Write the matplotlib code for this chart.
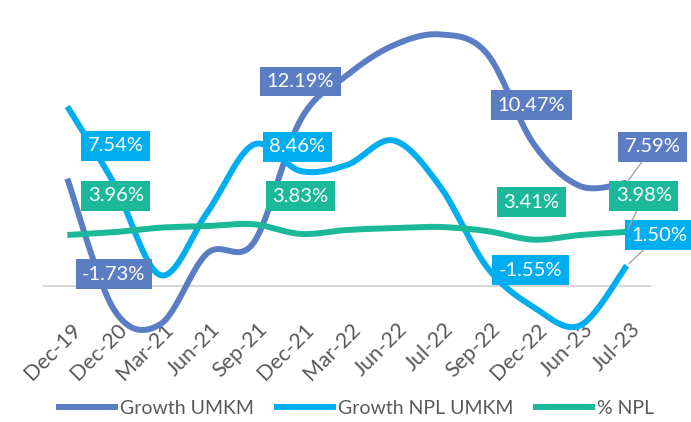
import numpy as np
import matplotlib.pyplot as plt
from matplotlib.transforms import ScaledTranslation

bulan = ['Dec-19', 'Dec-20', 'Mar-21', 'Jun-21', 'Sep-21', 'Dec-21', 'Mar-22',
         'Jun-22', 'Jul-22', 'Sep-22', 'Dec-22', 'Jun-23', 'Jul-23']
growth_umkm = [7.9, -1.73, -2.8, 2.4, 3.2, 12.19, 15.5, 17.7, 18.5, 17.1, 10.47, 7.35, 7.59]
growth_npl_umkm = [13.2, 7.54, 0.8, 5.4, 10.4, 8.46, 8.9, 10.7, 7.3, 1.4, -1.55, -2.9, 1.50]
npl = [3.75, 3.96, 4.29, 4.41, 4.54, 3.83, 4.12, 4.26, 4.34, 4.04, 3.41, 3.75, 3.98]
# titik yang diberi label
idx_label = [1, 5, 10, 12]

plt.rcParams['font.family'] = ['Lato', 'DejaVu Sans']


def smooth(y, n=30):
    # garis halus ala excel (bezier / catmull-rom)
    y = np.asarray(y, float)
    x = np.arange(len(y), dtype=float)
    t = np.linspace(0, 1, n)
    xs, ys = [], []
    for i in range(len(y) - 1):
        i0 = max(i - 1, 0)
        i3 = min(i + 2, len(y) - 1)
        for arr, out in ((x, xs), (y, ys)):
            p0, p1, p2, p3 = arr[i0], arr[i], arr[i + 1], arr[i3]
            c1 = p1 + (p2 - p0) / 6
            c2 = p2 - (p3 - p1) / 6
            out.append((1 - t) ** 3 * p1 + 3 * (1 - t) ** 2 * t * c1
                       + 3 * (1 - t) * t ** 2 * c2 + t ** 3 * p2)
    return np.concatenate(xs), np.concatenate(ys)


fig = plt.figure(figsize=(6.91, 4.22), dpi=100)
ax = fig.add_axes([44 / 691, 0.1611, 606 / 691, 0.7896])

series = [
    ('Growth UMKM', growth_umkm, '#5B7DC4', [(0, 35.5), (0, 38.7), (-2, 38.6), (26, 35.8)]),
    ('Growth NPL UMKM', growth_npl_umkm, '#00AEEF', [(2, 37.5), (-3, 24), (-3, 37), (33, 30.6)]),
    ('% NPL', npl, '#1BB99A', [(2, 36.6), (0, 37.9), (-2, 37.6), (17, 35.9)]),
]

for nama, data, warna, offs in series:
    xs, ys = smooth(data)
    ax.plot(xs, ys, color=warna, lw=4.3, solid_capstyle='butt', label=nama, zorder=2)

for nama, data, warna, offs in series:
    for i, (dx, dy) in zip(idx_label, offs):
        arrow = None
        if i == len(data) - 1:
            arrow = dict(arrowstyle='-', color='#A6A6A6', lw=1, shrinkA=0, shrinkB=2)
        ax.annotate(f'{data[i]:.2f}%', xy=(i, data[i]), xytext=(dx * 0.72, dy * 0.72),
                    textcoords='offset points', ha='center', va='center',
                    fontsize=14.5, color='white', zorder=5,
                    bbox=dict(boxstyle='square,pad=0.32', fc=warna, ec='none'),
                    arrowprops=arrow)

ax.set_xlim(-0.5, len(bulan) - 0.5)
ax.set_ylim(-5, 19.5)
for s in ['top', 'right', 'left']:
    ax.spines[s].set_visible(False)
ax.spines['bottom'].set_position(('data', 0))
ax.spines['bottom'].set_color('#D9D9D9')
ax.spines['bottom'].set_linewidth(1.5)
ax.spines['bottom'].set_zorder(1)
ax.set_yticks([])
ax.set_xticks(range(len(bulan)))
ax.set_xticklabels(bulan, rotation=45, ha='right', rotation_mode='anchor',
                   fontsize=15.5, color='#595959')
ax.tick_params(axis='x', length=0, pad=24)
geser = ScaledTranslation(3 / 100, 0, fig.dpi_scale_trans)
for lbl in ax.get_xticklabels():
    lbl.set_transform(lbl.get_transform() + geser)

fig.legend(loc='center', bbox_to_anchor=(355 / 691, 1 - 408 / 422), ncol=3,
           frameon=False, fontsize=14, labelcolor='#595959', handlelength=3.2,
           handletextpad=0.1, columnspacing=1.0)

fig.savefig('out.png', dpi=100)
